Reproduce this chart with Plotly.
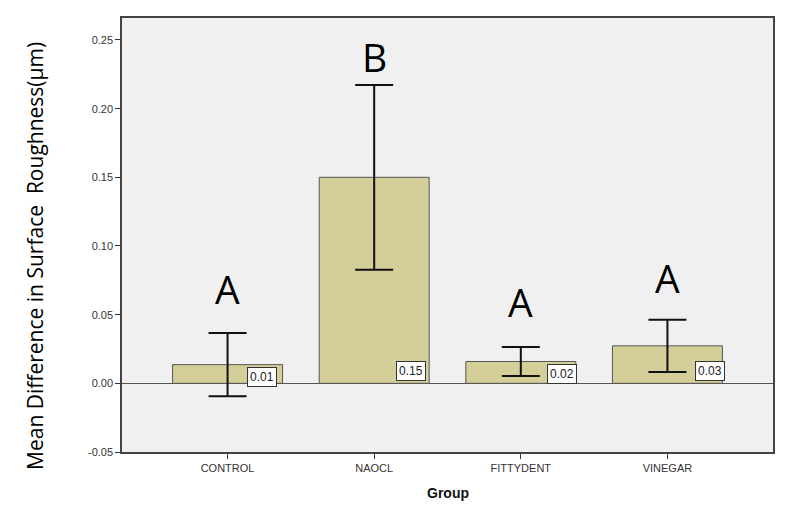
import plotly.graph_objects as go

groups = ["CONTROL", "NAOCL", "FITTYDENT", "VINEGAR"]
means = [0.0136, 0.150, 0.0159, 0.0273]
err_half = [0.023, 0.0673, 0.0105, 0.019]
value_labels = ["0.01", "0.15", "0.02", "0.03"]
letters = ["A", "B", "A", "A"]

# layout helpers (pixel offsets for the value boxes and letters)
label_dx = [34, 37, 41, 43]
letter_gap = [0.0325, 0.021, 0.033, 0.0305]

fig = go.Figure()
fig.add_trace(go.Bar(
    x=list(range(len(groups))), y=means, width=0.75,
    marker=dict(color="#D4CE98", line=dict(color="#555555", width=1)),
    error_y=dict(type="data", array=err_half, visible=True,
                 color="#111111", thickness=2, width=19),
    hoverinfo="skip",
))

annotations = []
for i, (m, e, lab, let) in enumerate(zip(means, err_half, value_labels, letters)):
    annotations.append(dict(
        x=i, y=min(m - 0.009, 0.009), xref="x", yref="y", xshift=label_dx[i],
        text=lab, showarrow=False, font=dict(family="Arial", size=12, color="#222"),
        bgcolor="white", bordercolor="#333", borderwidth=1, borderpad=2,
        yanchor="middle", xanchor="center"))
    annotations.append(dict(
        x=i, y=m + e + letter_gap[i], xref="x", yref="y",
        text=let, showarrow=False, yanchor="middle",
        font=dict(family="Open Sans", size=39, color="black")))

annotations.append(dict(
    text="Mean Difference in Surface  Roughness(μm)", textangle=-90,
    xref="paper", yref="paper", x=(35 - 122) / 651, y=(452 - 255) / 436,
    showarrow=False, font=dict(family="Open Sans", size=21, color="black"),
    xanchor="center", yanchor="middle"))
annotations.append(dict(
    text="<b>Group</b>", xref="paper", yref="paper",
    x=0.5, y=-(493 - 452) / 436, showarrow=False,
    font=dict(family="Arial", size=14, color="#111"),
    xanchor="center", yanchor="middle"))

fig.update_layout(
    width=778, height=506,
    margin=dict(l=114, r=13, t=8, b=62),
    paper_bgcolor="white", plot_bgcolor="#F0F0F0",
    showlegend=False, annotations=annotations,
    xaxis=dict(range=[-0.72, 3.72], tickmode="array",
               tickvals=list(range(len(groups))), ticktext=groups,
               ticks="outside", ticklen=5, tickcolor="#333",
               showgrid=False, zeroline=False,
               showline=True, mirror=True, linecolor="#444", linewidth=1.5,
               tickfont=dict(family="Arial", size=11, color="#333")),
    yaxis=dict(range=[-0.05, 0.266], tickmode="array",
               tickvals=[-0.05, 0, 0.05, 0.10, 0.15, 0.20, 0.25],
               ticktext=["-0.05", "0.00", "0.05", "0.10", "0.15", "0.20", "0.25"],
               ticks="outside", ticklen=5, tickcolor="#333",
               showgrid=False, zeroline=True, zerolinecolor="#555", zerolinewidth=1,
               showline=True, mirror=True, linecolor="#444", linewidth=1.5,
               tickfont=dict(family="Arial", size=11, color="#333")),
)

fig.write_html("out.html")
